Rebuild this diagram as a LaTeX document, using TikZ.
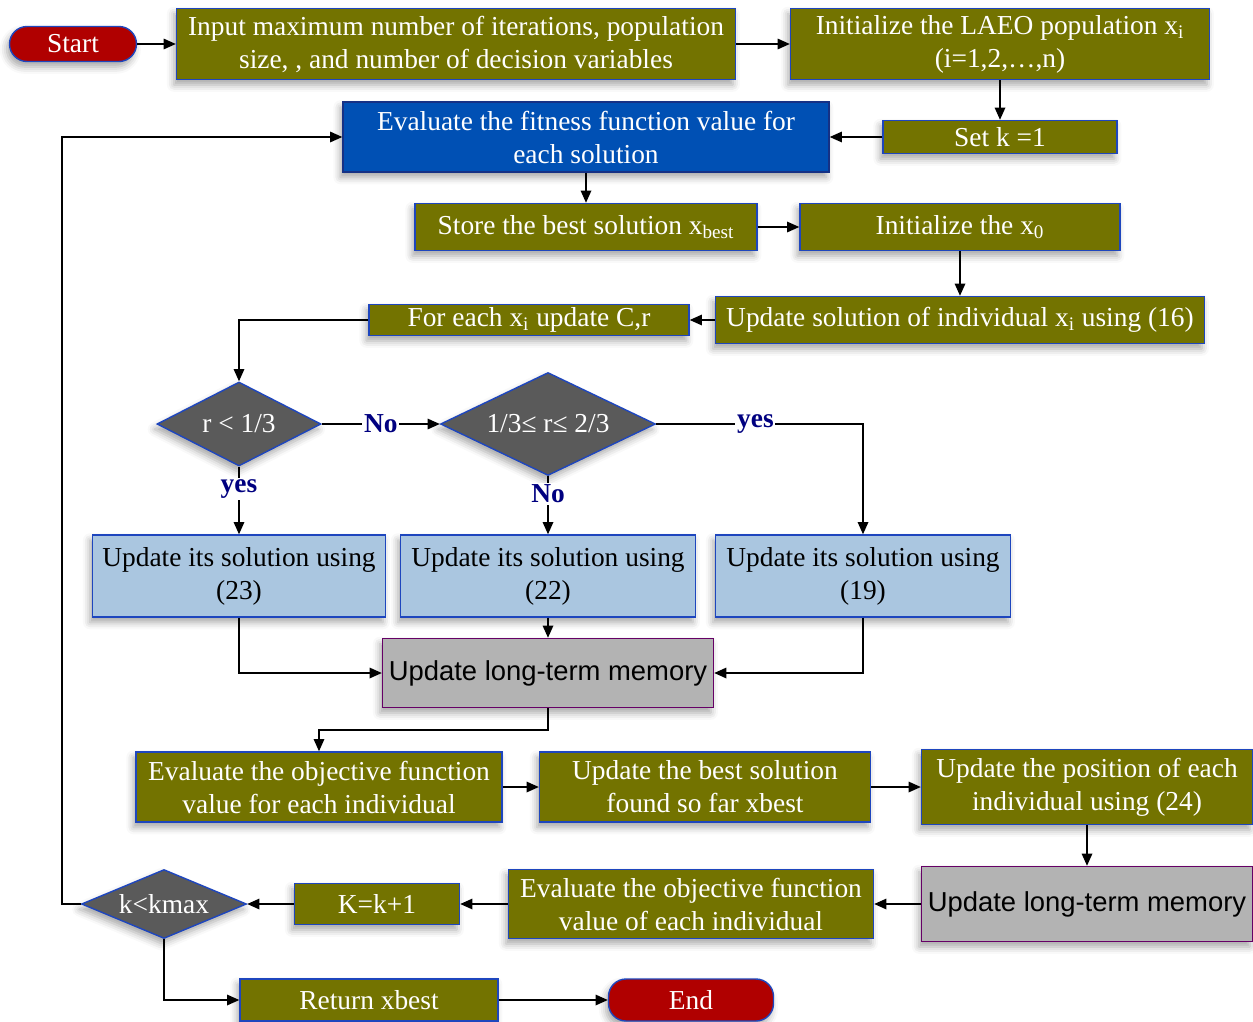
\documentclass[tikz,border=0pt]{standalone}
\usepackage{fontspec}
\setmainfont{Liberation Serif}
\newfontfamily\arialfont{Liberation Sans}
\usetikzlibrary{arrows.meta,shapes.geometric,shadows.blur}
\definecolor{olive}{RGB}{115,115,0}
\definecolor{fitblue}{RGB}{0,80,180}
\definecolor{paleblue}{RGB}{170,198,224}
\definecolor{memgray}{RGB}{179,179,179}
\definecolor{termred}{RGB}{176,0,0}
\definecolor{diagray}{RGB}{90,90,90}
\definecolor{edgeblue}{RGB}{30,70,190}
\definecolor{navy}{RGB}{0,0,128}
\begin{document}
\begin{tikzpicture}[x=0.02cm,y=-0.02cm,
  every node/.style={font=\fontsize{15.6}{18.8}\selectfont, align=center, inner sep=1pt},
  shade/.style={blur shadow={shadow xshift=-1.5pt, shadow yshift=-3pt, shadow blur radius=4pt, shadow opacity=35}},
  olivebox/.style={draw=edgeblue, line width=0.8pt, fill=olive, text=white, shade},
  bluebox/.style={draw=edgeblue!70!black, line width=0.8pt, fill=fitblue, text=white, shade},
  lightbox/.style={draw=edgeblue, line width=0.8pt, fill=paleblue, text=black, shade},
  memorybox/.style={draw=violet!80!black, line width=0.8pt, fill=memgray, text=black, shade,
    font=\arialfont\fontsize{15.6}{19}\selectfont},
  decision/.style={diamond, draw=edgeblue, line width=0.8pt, fill=diagray, text=white, inner sep=0pt, shade},
  terminal/.style={draw=edgeblue, line width=0.8pt, fill=termred, text=white, rounded corners=0.35cm, shade},
  lab/.style={fill=white, text=navy, font=\bfseries\fontsize{15.6}{19}\selectfont, inner sep=1pt},
  arr/.style={-{Triangle[length=7pt,width=6pt]}, line width=0.9pt}]
\useasboundingbox (0,0) rectangle (1253,1021);

\node[terminal, minimum width=2.54cm, minimum height=0.70cm] (start) at (73,44) {Start};
\node[olivebox, minimum width=11.18cm, minimum height=1.42cm] (inp) at (456,44) {Input maximum number of iterations, population\\size, , and number of decision variables};
\node[olivebox, minimum width=8.38cm, minimum height=1.42cm] (init) at (1000,44) {Initialize the LAEO population x\textsubscript{i}\\(i=1,2,\dots,n)};
\node[olivebox, minimum width=4.68cm, minimum height=0.66cm] (setk) at (1000,137) {Set k =1};
\node[bluebox, minimum width=9.72cm, minimum height=1.40cm] (evalf) at (586,137) {Evaluate the fitness function value for\\each solution};
\node[olivebox, minimum width=6.84cm, minimum height=0.94cm] (store) at (586,227) {Store the best solution x\textsubscript{best}};
\node[olivebox, minimum width=6.40cm, minimum height=0.94cm] (initx) at (960,227) {Initialize the x\textsubscript{0}};
\node[olivebox, minimum width=9.78cm, minimum height=0.94cm] (upd) at (960,320) {Update solution of individual x\textsubscript{i} using (16)};
\node[olivebox, minimum width=6.40cm, minimum height=0.62cm] (each) at (529,320) {For each x\textsubscript{i} update C,r};

\node[decision, shape aspect=1.95, minimum width=3.28cm, minimum height=1.68cm] (d1) at (239,424) {r < 1/3};
\node[decision, shape aspect=2.09, minimum width=4.30cm, minimum height=2.06cm] (d2) at (548,424) {1/3≤ r≤ 2/3};

\node[lightbox, minimum width=5.86cm, minimum height=1.64cm] (u23) at (239,576) {Update its solution using\\(23)};
\node[lightbox, minimum width=5.90cm, minimum height=1.64cm] (u22) at (548,576) {Update its solution using\\(22)};
\node[lightbox, minimum width=5.90cm, minimum height=1.64cm] (u19) at (863,576) {Update its solution using\\(19)};
\node[memorybox, minimum width=6.62cm, minimum height=1.38cm] (ltm) at (548,673) {Update long-term memory};

\node[olivebox, minimum width=7.32cm, minimum height=1.40cm] (evalo) at (319,787) {Evaluate the objective function\\value for each individual};
\node[olivebox, minimum width=6.62cm, minimum height=1.40cm] (best) at (705,787) {Update the best solution\\found so far xbest};
\node[olivebox, minimum width=6.62cm, minimum height=1.50cm] (pos) at (1087,787) {Update the position of each\\individual using (24)};
\node[memorybox, minimum width=6.62cm, minimum height=1.50cm] (ltmb) at (1087,904) {Update long-term memory};
\node[olivebox, minimum width=7.30cm, minimum height=1.38cm] (evalob) at (691,904) {Evaluate the objective function\\value of each individual};
\node[olivebox, minimum width=3.30cm, minimum height=0.82cm] (kinc) at (377,904) {K=k+1};
\node[decision, shape aspect=2.4, minimum width=3.30cm, minimum height=1.38cm] (d3) at (164,904) {k<kmax};
\node[olivebox, minimum width=5.16cm, minimum height=0.84cm] (ret) at (369,1000) {Return xbest};
\node[terminal, minimum width=3.30cm, minimum height=0.84cm] (fin) at (691,1000) {End};

% top rows
\draw[arr] (start) -- (inp);
\draw[arr] (inp) -- (init);
\draw[arr] (init) -- (setk);
\draw[arr] (setk) -- (evalf);
\draw[arr] (evalf) -- (store);
\draw[arr] (store) -- (initx);
\draw[arr] (initx) -- (upd);
\draw[arr] (upd) -- (each);
\draw[arr] (each) -| (d1);

% decisions
\draw[arr] (d1) -- node[lab]{No} (d2);
\draw[arr] (d1) -- node[lab, pos=0.33]{yes} (u23);
\draw[arr] (d2) -- node[lab, pos=0.3]{No} (u22);
\draw[arr] (d2) -| node[lab, pos=0.24]{yes} (u19);

% memory
\draw[arr] (u23) |- (ltm);
\draw[arr] (u22) -- (ltm);
\draw[arr] (u19) |- (ltm);
\draw[arr] (ltm.south) -- ++(0,22) -| (evalo.north);

% bottom rows
\draw[arr] (evalo) -- (best);
\draw[arr] (best) -- (pos);
\draw[arr] (pos) -- (ltmb);
\draw[arr] (ltmb) -- (evalob);
\draw[arr] (evalob) -- (kinc);
\draw[arr] (kinc) -- (d3);
\draw[arr] (d3.west) -- ++(-19,0) |- (evalf.west);
\draw[arr] (d3.south) |- (ret);
\draw[arr] (ret) -- (fin);
\end{tikzpicture}
\end{document}
